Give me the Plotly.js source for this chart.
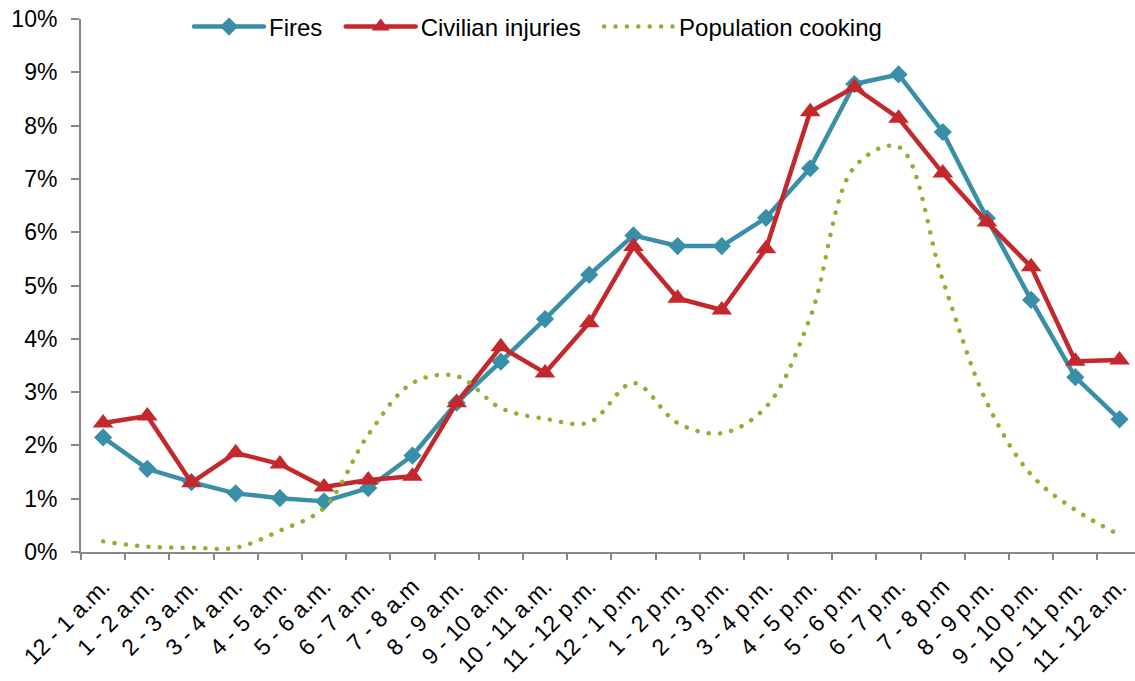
<!DOCTYPE html>
<html>
<head>
<meta charset="utf-8">
<script src="https://cdn.plot.ly/plotly-3.0.1.min.js"></script>
<style>
html,body{margin:0;padding:0;background:#fff;}
#chart{width:1135px;height:681px;}
#chart path.js-line{stroke-linecap:round;stroke-linejoin:round;}
</style>
</head>
<body>
<div id="chart"></div>
<script>
const hours = ["12 - 1 a.m.","1 - 2 a.m.","2 - 3 a.m.","3 - 4 a.m.","4 - 5 a.m.","5 - 6 a.m.","6 - 7 a.m.","7 - 8 a.m","8 - 9 a.m.","9 - 10 a.m.","10 - 11 a.m.","11 - 12 p.m.","12 - 1 p.m.","1 - 2 p.m.","2 - 3 p.m.","3 - 4 p.m.","4 - 5 p.m.","5 - 6 p.m.","6 - 7 p.m.","7 - 8 p.m","8 - 9 p.m.","9 - 10 p.m.","10 - 11 p.m.","11 - 12 a.m."];
const fires = [2.15,1.56,1.31,1.10,1.01,0.95,1.20,1.81,2.80,3.57,4.37,5.20,5.94,5.74,5.74,6.27,7.20,8.78,8.96,7.88,6.26,4.73,3.28,2.49];
const injuries = [2.42,2.55,1.30,1.86,1.65,1.22,1.35,1.42,2.80,3.85,3.36,4.30,5.73,4.76,4.54,5.69,8.26,8.72,8.14,7.11,6.19,5.35,3.58,3.60];
const cooking = [0.20,0.10,0.08,0.08,0.40,0.83,2.20,3.17,3.30,2.70,2.50,2.43,3.17,2.42,2.23,2.72,4.40,7.22,7.60,5.10,2.80,1.45,0.79,0.32];
const seriesNames = ["Fires", "Civilian injuries", "Population cooking"];
const legendPad = "\u00a0\u00a0";

const traces = [
  {x: hours, y: fires, name: seriesNames[0] + legendPad, type: "scatter", mode: "lines+markers",
   line: {color: "#3A8FA8", width: 4.5},
   marker: {symbol: "diamond", size: 14, color: "#3A8FA8"}},
  {x: hours, y: injuries, name: seriesNames[1] + legendPad, type: "scatter", mode: "lines+markers",
   line: {color: "#C3282D", width: 4.5},
   marker: {symbol: "triangle-up", size: 18, color: "#C3282D"}},
  {x: hours, y: cooking, name: seriesNames[2], type: "scatter", mode: "lines",
   line: {color: "#8AB333", width: 4.5, dash: "0.1px,11.3px", shape: "spline", smoothing: 1}}
];

const layout = {
  width: 1135, height: 681,
  margin: {l: 81, r: 0, t: 19, b: 129},
  paper_bgcolor: "#fff", plot_bgcolor: "#fff",
  font: {family: "Liberation Sans, Arial, sans-serif", color: "#000"},
  showlegend: true,
  legend: {orientation: "h", x: 0.4336, xanchor: "center", y: 0.985, yanchor: "middle",
           itemwidth: 70,
           font: {size: 24, family: "Liberation Sans, Arial, sans-serif"}, bgcolor: "rgba(0,0,0,0)"},
  hovermode: false,
  xaxis: {type: "category", range: [-0.5, 23.35], showgrid: false, zeroline: false,
          showline: true, linecolor: "#888", linewidth: 2,
          ticks: "outside", tickson: "boundaries", ticklen: 6, tickcolor: "#888", tickwidth: 2,
          tickangle: -45, tickfont: {size: 23}, ticklabelstandoff: 10},
  yaxis: {range: [0, 10], dtick: 1, ticksuffix: "%", showgrid: false, zeroline: false,
          showline: true, linecolor: "#888", linewidth: 2,
          ticks: "outside", ticklen: 8, tickcolor: "#888", tickwidth: 2,
          tickfont: {size: 23}, ticklabelstandoff: 9}
};

Plotly.newPlot("chart", traces, layout, {displayModeBar: false, staticPlot: true});
</script>
</body>
</html>
